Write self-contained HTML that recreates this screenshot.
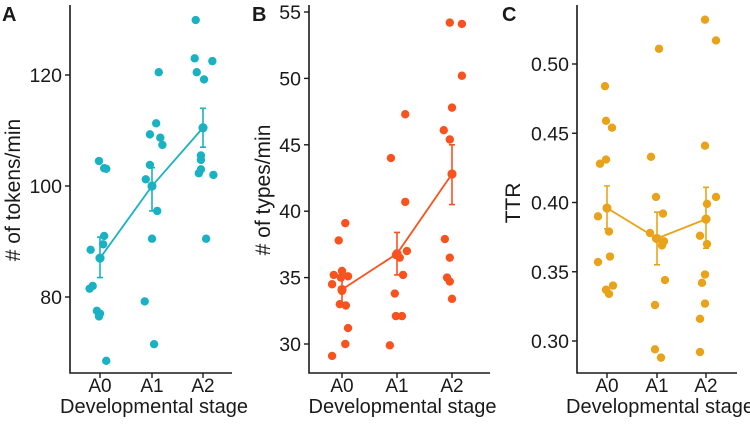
<!DOCTYPE html>
<html><head><meta charset="utf-8"><style>
body{margin:0;background:#fff}
svg text{font-family:"Liberation Sans",sans-serif;fill:#1a1a1a}
</style></head><body>
<svg id="c" width="750" height="428" viewBox="0 0 750 428" xmlns="http://www.w3.org/2000/svg"></svg>
<script>
const categories=["A0","A1","A2"];
// Panel A: tokens/min
const tokensA0=[104.5,103.2,103.1,91,89.5,88.5,81.5,82,77.5,77,76.5,68.5];
const tokensA1=[120.5,111.3,109.3,108.7,107.4,103.8,101.2,95.5,90.5,79.2,71.5];
const tokensA2=[129.9,123,122.5,120.5,119.2,105.5,104.7,103,102.3,102,90.5];
const tokensMean=[87,100,110.5];
const tokensLo=[83.5,95.5,107];
const tokensHi=[90.8,103.3,114];
const tokensTicks=[80,100,120];
// Panel B: types/min
const typesA0=[39.1,37.8,35.5,35.2,35.1,35,34.5,34,33,32.9,31.2,30,29.1];
const typesA1=[47.3,44,40.7,37,36.7,36.5,35.2,33.8,32.1,32.1,29.9];
const typesA2=[54.2,54.1,50.2,47.8,46.1,45.4,37.9,36.5,35,34.7,33.4];
const typesMean=[34.1,36.8,42.8];
const typesLo=[33.1,35.2,40.5];
const typesHi=[35.1,38.4,45];
const typesTicks=[30,35,40,45,50,55];
// Panel C: TTR
const ttrA0=[.484,.459,.454,.431,.428,.396,.39,.379,.361,.357,.34,.337,.334];
const ttrA1=[.511,.433,.404,.392,.378,.374,.372,.369,.344,.326,.294,.288];
const ttrA2=[.532,.517,.441,.404,.399,.388,.376,.37,.348,.342,.327,.316,.292];
const ttrMean=[.396,.374,.388];
const ttrLo=[.381,.355,.367];
const ttrHi=[.412,.393,.411];
const ttrTicks=[0.30,0.35,0.40,0.45,0.50];
// jitter (fraction of category spacing)
const jitA=[[-.02,.08,.12,.08,.06,-.18,-.2,-.14,-.06,0,-.02,.12],[.13,.08,-.04,.16,.2,-.04,-.12,.1,0,-.14,.04],[-.14,-.16,.18,-.12,.02,-.04,-.04,-.04,-.08,.2,.06]];
const jitB=[[.06,-.06,0,-.15,.11,-.02,-.18,0,-.04,.07,.11,.06,-.18],[.15,-.11,.15,.18,-.02,.05,.11,-.04,-.02,.09,-.13],[-.04,.18,.18,0,-.15,-.04,-.13,-.04,-.09,-.04,0]];
const jitC=[[-.04,-.02,.1,-.02,-.14,0,-.18,.04,.06,-.18,.12,-.02,.04],[.04,-.12,-.02,.12,-.14,-.02,.14,.1,.16,-.04,-.04,.08],[-.02,.2,-.02,.2,.02,0,-.12,.02,-.02,-.08,-.02,-.12,-.12]];

const svg=document.getElementById('c');
const NS="http://www.w3.org/2000/svg";
function mk(tag,attrs,parent){const e=document.createElementNS(NS,tag);for(const k in attrs)e.setAttribute(k,attrs[k]);(parent||svg).appendChild(e);return e;}

function panel(o){
  const g=mk('g',{});
  
  
  const y=v=>o.y0+(v-o.v0)*(o.y1-o.y0)/(o.v1-o.v0);
  const step=o.cx[1]-o.cx[0];
  const x=i=>o.cx[i];
  const ax=mk('path',{d:`M${o.axX},5V373H${o.axEnd}`,stroke:'#1a1a1a','stroke-width':1.6,fill:'none'},g);
  
  o.ticks.forEach(t=>{
    mk('line',{x1:o.axX-5,x2:o.axX,y1:y(t),y2:y(t),stroke:'#1a1a1a','stroke-width':1.4},g);
    const tx=mk('text',{x:o.axX-8,y:y(t)+7,'text-anchor':'end','font-size':19.5},g);
    tx.textContent=o.fmt(t);
    
  });
  categories.forEach((c,i)=>{
    mk('line',{x1:x(i),x2:x(i),y1:373,y2:378,stroke:'#1a1a1a','stroke-width':1.4},g);
    const tx=mk('text',{x:x(i),y:392,'text-anchor':'middle','font-size':19},g);
    tx.textContent=c;
    
  });
  const xt=mk('text',{x:(o.axX+o.axEnd)/2+3,y:413,'text-anchor':'middle','font-size':20},g);
  xt.textContent='Developmental stage';
  
  const yt=mk('text',{x:0,y:0,'text-anchor':'middle','font-size':21,transform:`translate(${o.ytX},${o.ytY}) rotate(-90)`},g);
  yt.textContent=o.ytitle;
  
  const lt=mk('text',{x:o.lx,y:21,'font-size':20,'font-weight':'bold'},g);
  lt.textContent=o.letter;
  
  o.data.forEach((arr,i)=>arr.forEach((v,j)=>{
    const c=mk('circle',{cx:x(i)+o.jit[i][j]*step,cy:y(v),r:4.2,fill:o.color},g);
    
  }));
  const ln=mk('polyline',{points:o.mean.map((m,i)=>x(i)+','+y(m)).join(' '),fill:'none',stroke:o.color,'stroke-width':1.8},g);
  
  o.mean.forEach((m,i)=>{
    const e=mk('path',{d:`M${x(i)},${y(o.lo[i])}V${y(o.hi[i])}M${x(i)-3},${y(o.lo[i])}h6M${x(i)-3},${y(o.hi[i])}h6`,stroke:o.color,'stroke-width':1.6,fill:'none'},g);
    
    const c=mk('circle',{cx:x(i),cy:y(m),r:4.6,fill:o.color},g);
    
  });
}
panel({letter:'A',lx:2,color:'#1ab2c2',axX:70,axEnd:232,cx:[100,152,203],v0:100,y0:186,v1:120,y1:75,ticks:tokensTicks,fmt:t=>t,data:[tokensA0,tokensA1,tokensA2],jit:jitA,mean:tokensMean,lo:tokensLo,hi:tokensHi,ytitle:'# of tokens/min',ytX:20,ytY:190});
panel({letter:'B',lx:252,color:'#f8531f',axX:309,axEnd:490,cx:[342,397,452],v0:30,y0:344,v1:55,y1:12,ticks:typesTicks,fmt:t=>t,data:[typesA0,typesA1,typesA2],jit:jitB,mean:typesMean,lo:typesLo,hi:typesHi,ytitle:'# of types/min',ytX:270,ytY:190});
panel({letter:'C',lx:502,color:'#e9a31a',axX:577,axEnd:737,cx:[607,657,706],v0:0.30,y0:341,v1:0.50,y1:64,ticks:ttrTicks,fmt:t=>t.toFixed(2),data:[ttrA0,ttrA1,ttrA2],jit:jitC,mean:ttrMean,lo:ttrLo,hi:ttrHi,ytitle:'TTR',ytX:520,ytY:203});
</script>
</body></html>
